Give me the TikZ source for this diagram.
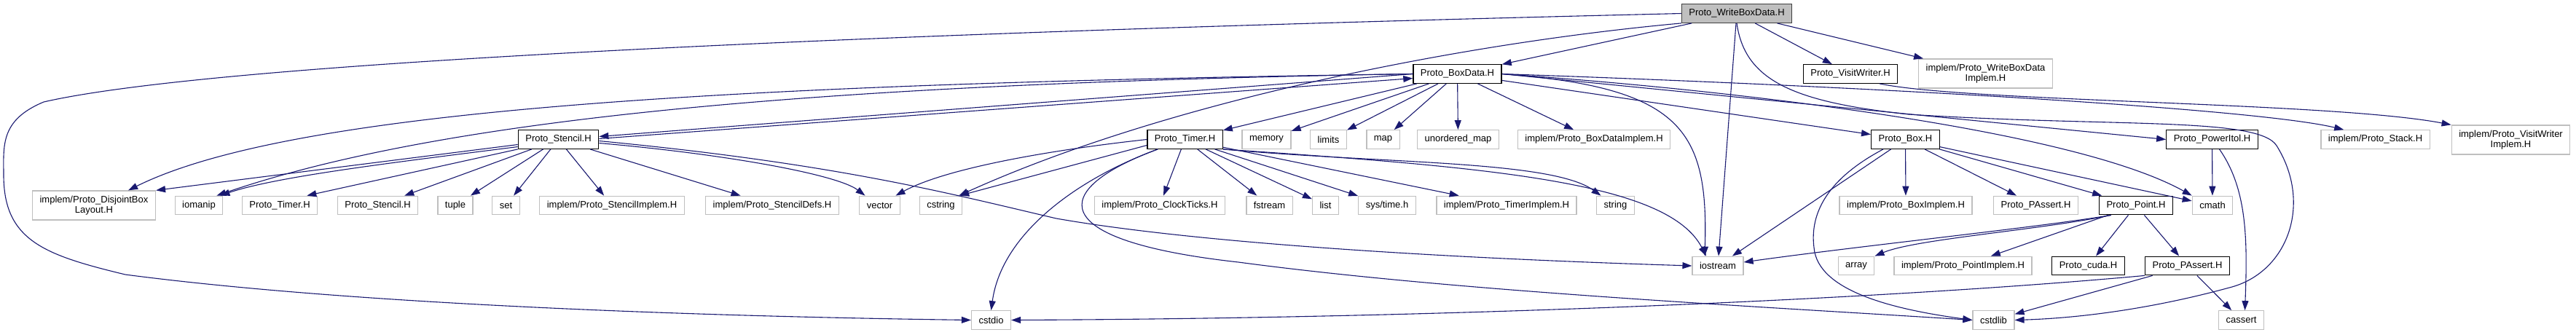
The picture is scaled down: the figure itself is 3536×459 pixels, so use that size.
\documentclass[tikz,border=0pt]{standalone}
\usepackage{fontspec}
\setmainfont{Liberation Sans}
\usetikzlibrary{arrows.meta}

\definecolor{edgeblue}{RGB}{25,25,112}
\definecolor{leafgrey}{RGB}{191,191,191}

\begin{document}
\begin{tikzpicture}[
  x=1pt, y=-1pt,
  font=\fontsize{13}{14.5}\selectfont,
  hfile/.style={rectangle, draw=black, line width=1.3pt, fill=white, minimum height=25.5pt,
                inner xsep=10pt, inner ysep=3pt, align=center},
  lfile/.style={hfile, draw=leafgrey},
  rfile/.style={hfile, draw=black!75, fill=leafgrey},
  two/.style={minimum height=40pt},
  arr/.style={-{Triangle[length=13pt, width=9pt]}, draw=edgeblue, line width=1.1pt}
]
\useasboundingbox (0,0) rectangle (3536,459);

% file itself
\node[rfile] (wbd) at (2384,18.5) {Proto\_WriteBoxData.H};

% direct includes
\node[hfile] (bd) at (2000.5,101.5) {Proto\_BoxData.H};
\node[hfile] (vw) at (2540,101.5) {Proto\_VisitWriter.H};
\node[lfile, two] (wbdimpl) at (2725.5,101) {implem/Proto\_WriteBoxData\\Implem.H};

\node[hfile] (stencil) at (766.5,191.5) {Proto\_Stencil.H};
\node[hfile] (timer) at (1626.5,191.5) {Proto\_Timer.H};
\node[lfile] (memory) at (1738.5,191.5) {memory};
\node[lfile] (limits) at (1823.5,191.5) {limits};
\node[lfile] (map) at (1898.5,191.5) {map};
\node[lfile] (umap) at (2001.5,191.5) {unordered\_map};
\node[lfile] (bdimpl) at (2188,191.5) {implem/Proto\_BoxDataImplem.H};
\node[hfile] (box) at (2615.5,191.5) {Proto\_Box.H};
\node[hfile] (powitol) at (3036.5,191.5) {Proto\_PowerItol.H};
\node[lfile] (stack) at (3260.5,191.5) {implem/Proto\_Stack.H};
\node[lfile, two] (vwimpl) at (3446.5,192) {implem/Proto\_VisitWriter\\Implem.H};

\node[lfile, two] (dbl) at (129,282) {implem/Proto\_DisjointBox\\Layout.H};
\node[lfile] (iomanip) at (273,282) {iomanip};
\node[lfile] (timerl) at (384,282) {Proto\_Timer.H};
\node[lfile] (stencill) at (518.5,282) {Proto\_Stencil.H};
\node[lfile] (tuple) at (625,282) {tuple};
\node[lfile] (set) at (694.5,282) {set};
\node[lfile] (stimpl) at (840,282) {implem/Proto\_StencilImplem.H};
\node[lfile] (stdefs) at (1060,282) {implem/Proto\_StencilDefs.H};
\node[lfile] (vector) at (1207.5,282) {vector};
\node[lfile] (cstring) at (1291.5,282) {cstring};
\node[lfile] (ticks) at (1592,282) {implem/Proto\_ClockTicks.H};
\node[lfile] (fstream) at (1742.5,282) {fstream};
\node[lfile] (list) at (1819.5,282) {list};
\node[lfile] (systime) at (1904,282) {sys/time.h};
\node[lfile] (timpl) at (2068,282) {implem/Proto\_TimerImplem.H};
\node[lfile] (string) at (2217.5,282) {string};
\node[lfile] (boximpl) at (2616,282) {implem/Proto\_BoxImplem.H};
\node[lfile] (passertl) at (2794.5,282) {Proto\_PAssert.H};
\node[hfile] (point) at (2932,282) {Proto\_Point.H};
\node[lfile] (cmath) at (3037,282) {cmath};

\node[lfile] (iostream) at (2358,365) {iostream};
\node[lfile] (array) at (2548,365) {array};
\node[lfile] (ptimpl) at (2694.5,365) {implem/Proto\_PointImplem.H};
\node[hfile] (cuda) at (2866.5,365) {Proto\_cuda.H};
\node[hfile] (passert) at (3002.5,365) {Proto\_PAssert.H};

\node[lfile] (cstdio) at (1360.5,439.5) {cstdio};
\node[lfile] (cstdlib) at (2736.5,439.5) {cstdlib};
\node[lfile] (cassert) at (3076.5,439.5) {cassert};

% Proto_WriteBoxData.H
\draw[arr] (wbd.west) .. controls (1200,45) and (300,85) .. (60,140)
  .. controls (0,165) and (5,200) .. (5,240)
  .. controls (5,330) and (60,350) .. (172,377)
  .. controls (500,420) and (1000,435) .. (cstdio.west);
\draw[arr] (wbd.south west) .. controls (2000,60) and (1600,140) .. ([xshift=-5pt]cstring.north east);
\draw[arr] (wbd) -- (bd);
\draw[arr] (wbd) -- (iostream);
\draw[arr] (wbd) -- (vw);
\draw[arr] (wbd) -- (wbdimpl);
\draw[arr] (wbd.south) .. controls (2395,110) and (2460,140) .. (2620,157)
  .. controls (2900,175) and (3100,160) .. (3125,200)
  .. controls (3175,280) and (3140,375) .. (3060,395)
  .. controls (2950,425) and (2850,437) .. (cstdlib.east);

% Proto_BoxData.H
\draw[arr] (bd.west) -- ([yshift=4pt]stencil.east);
\draw[arr] ([yshift=1pt]stencil.east) -- ([yshift=-6pt]bd.west);
\draw[arr] (bd.west) .. controls (1000,115) and (400,150) .. ([xshift=-38pt]dbl.north east);
\draw[arr] (bd.west) .. controls (1100,115) and (600,165) .. ([xshift=-9pt]iomanip.north east);
\draw[arr] (bd) -- (timer);
\draw[arr] (bd) -- (memory);
\draw[arr] (bd) -- (limits);
\draw[arr] (bd) -- (map);
\draw[arr] (bd) -- (umap);
\draw[arr] (bd) -- (bdimpl);
\draw[arr] (bd.east) .. controls (2310,120) and (2345,180) .. ([xshift=-18pt]iostream.north);
\draw[arr] (bd) -- (box);
\draw[arr] (bd.east) -- (powitol.west);
\draw[arr] (bd.east) .. controls (2600,120) and (3100,150) .. ([xshift=32pt]stack.north west);
\draw[arr] (bd.east) .. controls (2400,125) and (2850,180) .. (cmath.north west);

% Proto_Stencil.H
\draw[arr] ([yshift=-7pt]stencil.west) -- (dbl.north east);
\draw[arr] ([yshift=-10pt]stencil.west) .. controls (550,222) and (380,242) .. ([xshift=-4pt]iomanip.north east);
\draw[arr] (stencil.south west) -- ([xshift=-15pt]timerl.north east);
\draw[arr] (stencil) -- (stencill);
\draw[arr] (stencil) -- (tuple);
\draw[arr] (stencil) -- (set);
\draw[arr] (stencil) -- (stimpl);
\draw[arr] (stencil) -- (stdefs);
\draw[arr] ([yshift=-5pt]stencil.east) .. controls (1000,212) and (1150,240) .. ([xshift=-20pt]vector.north);
\draw[arr] ([yshift=-2pt]stencil.east) .. controls (1150,225) and (1300,265) .. (1450,300)
  .. controls (1650,335) and (2000,355) .. (iostream.west);

% Proto_Timer.H
\draw[arr] (timer.west) .. controls (1450,205) and (1300,230) .. ([xshift=22pt]vector.north);
\draw[arr] ([yshift=-8pt]timer.west) -- ([xshift=-4pt]cstring.north east);
\draw[arr] ([xshift=15pt]timer.south west) .. controls (1480,245) and (1375,320) .. (cstdio.north);
\draw[arr] ([xshift=15pt]timer.south west) .. controls (1440,260) and (1430,330) .. (1700,360)
  .. controls (2000,400) and (2400,420) .. (cstdlib.west);
\draw[arr] (timer) -- (ticks);
\draw[arr] (timer) -- (fstream);
\draw[arr] (timer) -- (list);
\draw[arr] (timer) -- (systime);
\draw[arr] (timer) -- (timpl);
\draw[arr] (timer.south east) .. controls (1900,225) and (2130,220) .. ([xshift=-20pt]string.north);
\draw[arr] (timer.south east) .. controls (2050,230) and (2290,250) .. ([xshift=-16pt]iostream.north);

% Proto_Box.H
\draw[arr] (box) -- (iostream);
\draw[arr] ([xshift=17pt]box.south west) .. controls (2500,250) and (2485,300) .. (2490,340)
  .. controls (2495,400) and (2600,425) .. (cstdlib.west);
\draw[arr] (box) -- (boximpl);
\draw[arr] (box) -- (passertl);
\draw[arr] (box) -- (point);
\draw[arr] (box) -- (cmath);

% Proto_Point.H
\draw[arr] ([xshift=17pt]point.south west) .. controls (2800,312) and (2550,338) .. ([yshift=5pt]iostream.east);
\draw[arr] ([xshift=17pt]point.south west) .. controls (2800,316) and (2630,328) .. (array.north east);
\draw[arr] (point) -- (ptimpl);
\draw[arr] (point) -- (cuda);
\draw[arr] (point) -- (passert);

% Proto_PowerItol.H
\draw[arr] (powitol) -- (cmath);
\draw[arr] ([xshift=10pt]powitol.south) .. controls (3085,260) and (3085,330) .. ([xshift=5pt]cassert.north);

% Proto_PAssert.H
\draw[arr] (passert.south west) .. controls (2600,410) and (2000,437) .. (cstdio.east);
\draw[arr] (passert) -- (cstdlib);
\draw[arr] (passert) -- (cassert);

% Proto_VisitWriter.H
\draw[arr] ([xshift=40pt]vw.south) .. controls (2700,140) and (3200,140) .. (vwimpl.north west);
\end{tikzpicture}
\end{document}
